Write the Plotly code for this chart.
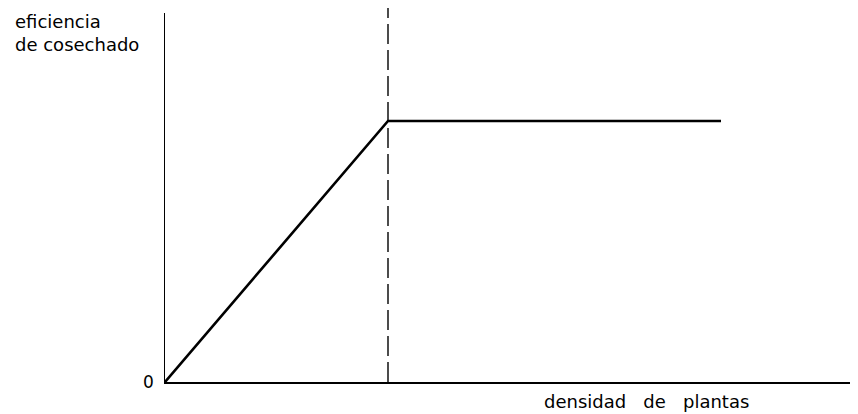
import plotly.graph_objects as go

# curve (pixel-ish units from the origin)
densidad = [0, 223, 556]
eficiencia = [0, 261, 261]
x_critica = 223  # dashed vertical line

x_max = 690
y_max = 369

fig = go.Figure()

fig.add_trace(go.Scatter(x=densidad, y=eficiencia, mode="lines",
                         line=dict(color="black", width=2.6),
                         hoverinfo="skip", showlegend=False))

# dashed vertical line at the break point, goes a bit over the top of the axis
fig.add_shape(type="line", xref="x", yref="paper",
              x0=x_critica, x1=x_critica, y0=0, y1=1.014,
              line=dict(color="black", width=1.4, dash="20px,6px"))

fig.update_xaxes(range=[0, x_max], showline=True, linecolor="black", linewidth=1.6,
                 showgrid=False, zeroline=False, showticklabels=False, ticks="")
fig.update_yaxes(range=[0, y_max], showline=True, linecolor="black", linewidth=1.4,
                 showgrid=False, zeroline=False, showticklabels=False, ticks="")

font = dict(family="DejaVu Sans", size=18, color="black")

fig.add_annotation(text="eficiencia<br>de cosechado", xref="paper", yref="paper",
                   x=(13 - 165) / 690, y=1.01, xanchor="left", yanchor="top",
                   align="left", showarrow=False, font=font)
fig.add_annotation(text="0", xref="paper", yref="y", x=(148 - 165) / 690, y=0,
                   xanchor="center", yanchor="middle", showarrow=False,
                   font=dict(family="DejaVu Sans", size=17, color="black"))
fig.add_annotation(text="densidad   de   plantas", xref="x", yref="paper",
                   x=542 - 165, y=-19 / 369, xanchor="left", yanchor="middle",
                   showarrow=False, font=font)

# page body has an 8px margin, so the figure is a bit smaller than the window
fig.update_layout(width=850, height=406, margin=dict(l=157, r=3, t=5, b=32),
                  plot_bgcolor="white", paper_bgcolor="white")

fig.write_html("out.html")
